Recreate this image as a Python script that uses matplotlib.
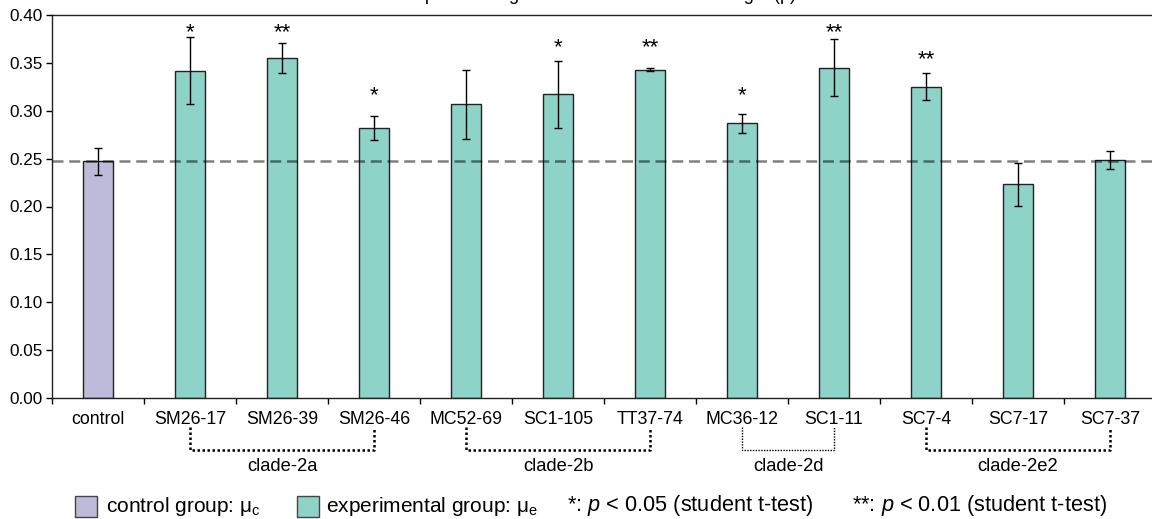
import numpy as np
import matplotlib
matplotlib.use("Agg")
import matplotlib.pyplot as plt
from matplotlib.patches import Rectangle
import matplotlib.transforms as mtransforms

plt.rcParams['font.family'] = ['Liberation Sans', 'DejaVu Sans']
plt.rcParams['mathtext.fontset'] = 'custom'
plt.rcParams['mathtext.rm'] = 'Liberation Sans'
plt.rcParams['mathtext.it'] = 'Liberation Sans:italic'

# ---- data ----
categories = ["control", "SM26-17", "SM26-39", "SM26-46", "MC52-69", "SC1-105",
              "TT37-74", "MC36-12", "SC1-11", "SC7-4", "SC7-17", "SC7-37"]
means = [0.247, 0.342, 0.355, 0.282, 0.307, 0.317, 0.343, 0.287, 0.345, 0.325, 0.223, 0.249]
errors = [0.014, 0.035, 0.0155, 0.0125, 0.036, 0.0345, 0.002, 0.0098, 0.030, 0.014, 0.0225, 0.0094]
groups = ["control"] + ["experimental"] * 11
sig_labels = ["", "*", "**", "*", "", "*", "**", "*", "**", "**", "", ""]
sig_heights = [None, 0.389, 0.389, 0.323, None, 0.373, 0.373, 0.323, 0.389, 0.361, None, None]
control_mean = 0.247
clades = [("clade-2a", "SM26-17", "SM26-46"), ("clade-2b", "MC52-69", "TT37-74"),
          ("clade-2d", "MC36-12", "SC1-11"), ("clade-2e2", "SC7-4", "SC7-37")]
yticks = [0.00, 0.05, 0.10, 0.15, 0.20, 0.25, 0.30, 0.35, 0.40]
title = "Comparison of germination ratio and root length (p)"

colors = {"control": "#bebada", "experimental": "#8dd3c7"}

W, H = 1152, 519
fig = plt.figure(figsize=(W / 100, H / 100), dpi=100)
ax = fig.add_axes([52 / W, (H - 398) / H, 1104 / W, 383 / H])

x = np.arange(len(categories))
ax.bar(x, means, width=0.326, color=[colors[g] for g in groups],
       edgecolor="#222222", linewidth=1.0, zorder=2)
ax.errorbar(x, means, yerr=errors, fmt="none", ecolor="black", elinewidth=1.0,
            capsize=2.8, capthick=1.0, zorder=3)
ax.axhline(control_mean, color="black", alpha=0.5, linewidth=1.8,
           linestyle=(0, (4.4, 2.3)), zorder=4)

for xi, lab, h in zip(x, sig_labels, sig_heights):
    if lab:
        ax.annotate(lab, (xi, h), xytext=(0, -9), textcoords="offset points",
                    ha="center", va="baseline", fontsize=16)

ax.set_xlim(-0.5, len(categories) - 0.5)
ax.set_ylim(0, 0.40)
ax.set_yticks(yticks)
ax.set_yticklabels([f"{v:.2f}" for v in yticks], fontsize=12.3)
ax.set_xticks(x)
ax.set_xticklabels(categories, fontsize=12.8)
ax.set_xticks(np.arange(len(categories) + 1) - 0.5, minor=True)
ax.tick_params(axis="x", which="major", length=0, pad=9)
ax.tick_params(axis="x", which="minor", length=4, width=1, direction="out")
ax.tick_params(axis="y", length=4, width=1, direction="out", pad=3)
for s in ax.spines.values():
    s.set_linewidth(1.0)
    s.set_color("#222222")

# clade brackets
trans = mtransforms.blended_transform_factory(ax.transData, ax.transAxes)
y_top, y_bot, y_txt = -0.076, -0.136, -0.180
for name, a, b in clades:
    xa, xb = categories.index(a), categories.index(b)
    lw = 1.0 if name == "clade-2d" else 1.8
    ax.plot([xa, xa, xb, xb], [y_top, y_bot, y_bot, y_top], transform=trans,
            color="black", linestyle=(0, (1, 1)), linewidth=lw, clip_on=False)
    ax.text((xa + xb) / 2, y_txt, name, transform=trans, ha="center", va="center",
            fontsize=13.2)

# title (clipped at the top of the figure, only descenders visible)
fig.text(387 / W, 1 - 0.5 / H, title, ha="left", va="baseline", fontsize=13)

# legend
ly = 1 - 506 / H
sq_h = 21 / H
fig.add_artist(Rectangle((75 / W, ly - sq_h / 2), 22 / W, sq_h, transform=fig.transFigure,
                         facecolor=colors["control"], edgecolor="#444444", linewidth=1))
fig.text(106 / W, ly, r"control group: μ$_\mathrm{c}$", ha="left", va="center", fontsize=15)
fig.add_artist(Rectangle((297 / W, ly - sq_h / 2), 22 / W, sq_h, transform=fig.transFigure,
                         facecolor=colors["experimental"], edgecolor="#444444", linewidth=1))
fig.text(326 / W, ly, r"experimental group: μ$_\mathrm{e}$", ha="left", va="center", fontsize=15)
fig.text(567 / W, ly, r"*: $p$ < 0.05 (student t-test)", ha="left", va="center", fontsize=15.7)
fig.text(852 / W, ly, r"**: $p$ < 0.01 (student t-test)", ha="left", va="center", fontsize=15.7)

fig.savefig("out.png", dpi=100)
